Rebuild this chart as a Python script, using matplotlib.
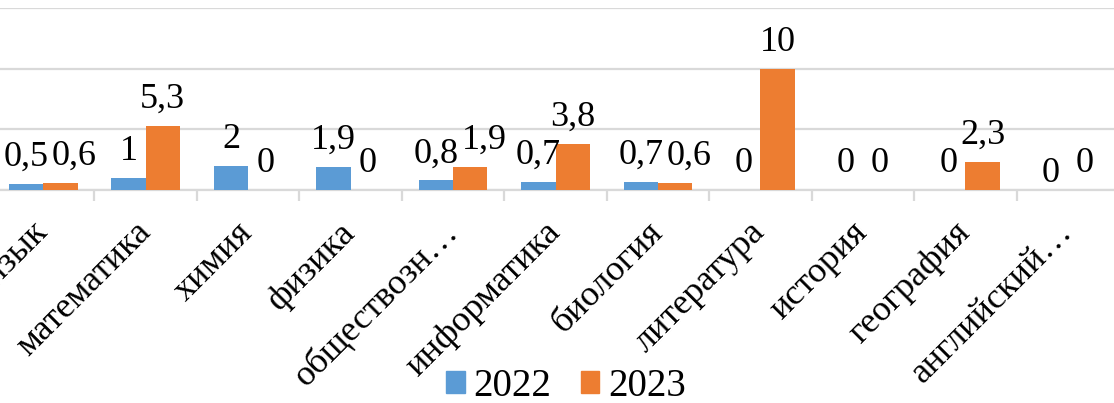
import numpy as np
import matplotlib.pyplot as plt
from matplotlib.patches import Patch

# --- data ---
subjects = ['русский язык', 'математика', 'химия', 'физика', 'обществозн…',
            'информатика', 'биология', 'литература', 'история', 'география',
            'английский…']
vals_2022 = [0.5, 1, 2, 1.9, 0.8, 0.7, 0.7, 0, 0, 0, 0]
vals_2023 = [0.6, 5.3, 0, 0, 1.9, 3.8, 0.6, 10, 0, 2.3, 0]
years = ['2022', '2023']

blue = '#5B9BD5'
orange = '#ED7D31'
grid_col = '#D9D9D9'
fs = 26

plt.rcParams['font.family'] = ['Liberation Serif', 'DejaVu Serif']

fig = plt.figure(figsize=(11.14, 4.03), dpi=100)
# the chart is cropped left and right in the reference, so the axes run past the figure
ax = fig.add_axes([-8 / 1114, 213 / 403, 1127 / 1114, 182 / 403])

x = np.arange(len(subjects))
w = 0.335
b1 = ax.bar(x - w / 2, vals_2022, w, color=blue, zorder=3)
b2 = ax.bar(x + w / 2, vals_2023, w, color=orange, zorder=3)


def fmt(v):
    return ('%g' % v).replace('.', ',')


lab1, lab2 = [], []
for bars, vals, store in ((b1, vals_2022, lab1), (b2, vals_2023, lab2)):
    for i, (r, v) in enumerate(zip(bars, vals)):
        off = 13
        if bars is b1 and i == len(vals) - 1:
            off = 6   # excel pushed this one down a bit
        t = ax.annotate(fmt(v), (r.get_x() + r.get_width() / 2, v),
                        xytext=(0, off), textcoords='offset points',
                        ha='center', va='baseline', fontsize=fs)
        store.append(t)

ax.set_xlim(-0.5, len(subjects) - 0.5)
ax.set_ylim(0, 15)
ax.set_yticks([0, 5, 10, 15])
ax.yaxis.grid(True, color=grid_col, linewidth=1.6, zorder=0)
ax.tick_params(axis='y', left=False, labelleft=False)

for s in ('top', 'right', 'left'):
    ax.spines[s].set_visible(False)
ax.spines['bottom'].set_color(grid_col)
ax.spines['bottom'].set_linewidth(1.6)

# category separators as minor ticks, labels on major ticks
ax.set_xticks(x)
ax.set_xticks(np.arange(len(subjects) + 1) - 0.5, minor=True)
ax.tick_params(axis='x', which='major', length=0, pad=27)
ax.tick_params(axis='x', which='minor', length=8, width=1.6, color=grid_col)
ax.set_xticklabels(subjects, rotation=45, ha='right', va='center',
                   rotation_mode='anchor', fontsize=fs)

handles = [Patch(color=blue), Patch(color=orange)]
fig.legend(handles, years, loc='center', bbox_to_anchor=(0.508, 0.042),
           ncol=2, frameon=False, fontsize=28, handlelength=0.48,
           handleheight=0.48, handletextpad=0.22, columnspacing=0.75,
           borderpad=0.1)

# nudge 2023 labels to the right where they collide with the 2022 label
fig.canvas.draw()
rend = fig.canvas.get_renderer()
for t1, t2 in zip(lab1, lab2):
    e1 = t1.get_window_extent(rend)
    e2 = t2.get_window_extent(rend)
    overlap = e1.x1 - e2.x0
    if overlap > -3 and e1.y0 < e2.y1 and e2.y0 < e1.y1:
        dx = (overlap + 3) * 72 / fig.dpi
        t2.xyann = (t2.xyann[0] + dx, t2.xyann[1])

fig.savefig('out.png', dpi=100)
